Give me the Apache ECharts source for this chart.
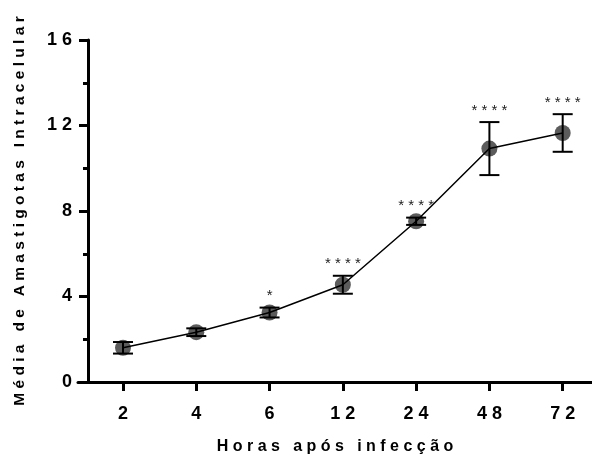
<!DOCTYPE html>
<html>
<head>
<meta charset="utf-8">
<script src="https://cdn.jsdelivr.net/npm/echarts@6/dist/echarts.min.js"></script>
<style>
  html, body { margin: 0; padding: 0; background: #fff; }
  #chart { width: 592px; height: 457px; }
</style>
</head>
<body>
<div id="chart"></div>
<script>
// horas após infecção (categorias do eixo x)
var hours = ['2', '4', '6', '12', '24', '48', '72'];
// média de amastigotas intracelular
var means = [1.6, 2.33, 3.25, 4.55, 7.52, 10.92, 11.65];
// erro padrão
var errors = [0.27, 0.18, 0.23, 0.42, 0.17, 1.24, 0.88];
// significância
var stars = ['', '', '*', '****', '****', '****', '****'];
var yTicks = [0, 4, 8, 12, 16];

var FONT = '"Liberation Sans", Arial, sans-serif';

function spaced(s, sep) {
  return String(s).split('').join(sep || ' ');
}

var idx = hours.map(function (h, i) { return i; });
var points = means.map(function (m, i) { return [i, m]; });
var errData = means.map(function (m, i) { return [i, m, errors[i]]; });

var chart = echarts.init(document.getElementById('chart'));
chart.setOption({
  animation: false,
  grid: { left: 78, right: 0, top: 40, bottom: 75, containLabel: false, outerBoundsMode: 'none' },
  xAxis: {
    type: 'value',
    min: -0.614,
    max: 6.4,
    splitLine: { show: false },
    axisLine: { onZero: false, lineStyle: { color: '#000', width: 3 } },
    axisTick: { show: true, length: 9, lineStyle: { color: '#000', width: 3 }, customValues: idx },
    axisLabel: {
      customValues: idx,
      margin: 23,
      color: '#000',
      fontFamily: FONT,
      fontWeight: 'bold',
      fontSize: 18,
      formatter: function (v) { return spaced(hours[Math.round(v)]); }
    },
    name: spaced('Horas após infecção'),
    nameLocation: 'middle',
    nameGap: 57,
    nameTextStyle: { color: '#000', fontFamily: FONT, fontWeight: 'bold', fontSize: 16 }
  },
  yAxis: {
    type: 'value',
    min: 0,
    max: 16,
    interval: 4,
    offset: -10,
    splitLine: { show: false },
    axisLine: { show: true, onZero: false, lineStyle: { color: '#000', width: 3 } },
    axisTick: { show: true, length: 9, lineStyle: { color: '#000', width: 3 } },
    minorTick: { show: true, splitNumber: 2, length: 5, lineStyle: { color: '#000', width: 3 } },
    axisLabel: {
      margin: 16,
      color: '#000',
      fontFamily: FONT,
      fontWeight: 'bold',
      fontSize: 18,
      formatter: function (v) { return yTicks.indexOf(v) >= 0 ? spaced(v) : ''; }
    },
    name: spaced('Média de Amastigotas Intracelular'),
    nameLocation: 'middle',
    nameGap: 60,
    nameTextStyle: { color: '#000', fontFamily: FONT, fontWeight: 'bold', fontSize: 15.5 }
  },
  series: [
    {
      type: 'scatter',
      data: points,
      symbol: 'circle',
      symbolSize: 16,
      itemStyle: { color: '#5c5c5c', opacity: 1 },
      z: 2
    },
    {
      type: 'line',
      data: points,
      showSymbol: false,
      lineStyle: { color: '#000', width: 1.5 },
      z: 3
    },
    {
      type: 'custom',
      data: errData,
      z: 4,
      renderItem: function (params, api) {
        var x = api.value(0), m = api.value(1), e = api.value(2);
        var top = api.coord([x, m + e]);
        var bot = api.coord([x, m - e]);
        var half = 10;
        var style = { stroke: '#000', lineWidth: 2 };
        var children = [
          { type: 'line', shape: { x1: top[0], y1: top[1], x2: bot[0], y2: bot[1] }, style: style },
          { type: 'line', shape: { x1: top[0] - half, y1: top[1], x2: top[0] + half, y2: top[1] }, style: style },
          { type: 'line', shape: { x1: bot[0] - half, y1: bot[1], x2: bot[0] + half, y2: bot[1] }, style: style }
        ];
        var s = stars[params.dataIndex];
        if (s) {
          children.push({
            type: 'text',
            x: top[0],
            y: top[1] - 4,
            style: {
              text: spaced(s),
              fill: '#222',
              font: '15px ' + FONT,
              align: 'center',
              verticalAlign: 'bottom'
            }
          });
        }
        return { type: 'group', children: children };
      }
    }
  ]
});
</script>
</body>
</html>
